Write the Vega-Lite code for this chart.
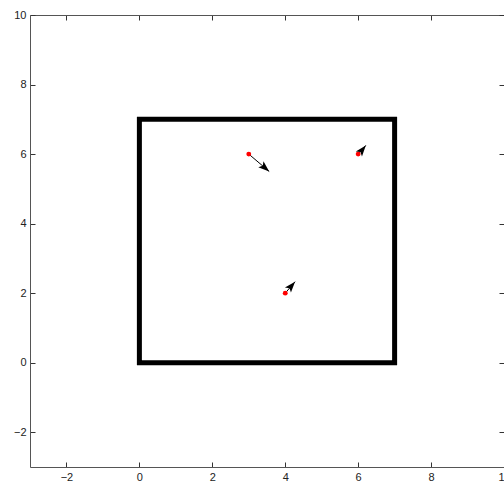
{
  "$schema": "https://vega.github.io/schema/vega-lite/v6.json",
  "width": 474,
  "height": 452,
  "autosize": {"type": "none"},
  "padding": {"left": 30, "top": 15, "right": 0, "bottom": 14},
  "background": "white",
  "config": {
    "view": {"stroke": null},
    "axis": {
      "grid": false,
      "domainColor": "#555555",
      "domainWidth": 1,
      "tickColor": "#333333",
      "tickSize": -5,
      "labelPadding": 9,
      "labelFont": "Liberation Sans",
      "labelFontSize": 11,
      "labelColor": "#222222",
      "labelBound": false,
      "labelFlush": false,
      "labelOverlap": false,
      "title": null
    }
  },
  "datasets": {
    "square": [
      {"order": 1, "x": 0, "y": 0},
      {"order": 2, "x": 0, "y": 7},
      {"order": 3, "x": 7, "y": 7},
      {"order": 4, "x": 7, "y": 0},
      {"order": 5, "x": 0, "y": 0}
    ],
    "arrows": [
      {"x": 3, "y": 6, "tx": 3.56, "ty": 5.5, "heading": 131},
      {"x": 6, "y": 6, "tx": 6.21, "ty": 6.25, "heading": 39},
      {"x": 4, "y": 2, "tx": 4.27, "ty": 2.33, "heading": 40.5}
    ]
  },
  "layer": [
    {
      "data": {"name": "square"},
      "mark": {"type": "line", "color": "black", "strokeWidth": 5, "strokeJoin": "miter", "strokeCap": "square"},
      "encoding": {
        "x": {"field": "x", "type": "quantitative", "scale": {"domain": [-3, 10], "nice": false, "zero": false},
              "axis": {"orient": "bottom", "values": [-2, 0, 2, 4, 6, 8, 10]}},
        "y": {"field": "y", "type": "quantitative", "scale": {"domain": [-3, 10], "nice": false, "zero": false},
              "axis": {"orient": "left", "values": [-2, 0, 2, 4, 6, 8, 10]}},
        "order": {"field": "order", "type": "quantitative"}
      }
    },
    {
      "data": {"name": "arrows"},
      "mark": {"type": "rule", "color": "black", "strokeWidth": 1},
      "encoding": {
        "x": {"field": "x", "type": "quantitative", "axis": {"orient": "top", "values": [-2, 0, 2, 4, 6, 8, 10], "labels": false}},
        "y": {"field": "y", "type": "quantitative", "axis": {"orient": "right", "values": [-2, 0, 2, 4, 6, 8, 10], "labels": false}},
        "x2": {"field": "tx"},
        "y2": {"field": "ty"}
      }
    },
    {
      "data": {"name": "arrows"},
      "mark": {"type": "point", "filled": true, "color": "red", "opacity": 1, "size": 24},
      "encoding": {
        "x": {"field": "x", "type": "quantitative", "axis": null},
        "y": {"field": "y", "type": "quantitative", "axis": null}
      }
    },
    {
      "data": {"name": "arrows"},
      "mark": {"type": "point", "filled": true, "color": "black", "opacity": 1, "size": 121,
               "shape": "M0,0 L-0.72,2 L0,1.55 L0.72,2 Z"},
      "encoding": {
        "x": {"field": "tx", "type": "quantitative", "axis": null},
        "y": {"field": "ty", "type": "quantitative", "axis": null},
        "angle": {"field": "heading", "type": "quantitative", "scale": null}
      }
    }
  ],
  "resolve": {"axis": {"x": "independent", "y": "independent"}}
}
